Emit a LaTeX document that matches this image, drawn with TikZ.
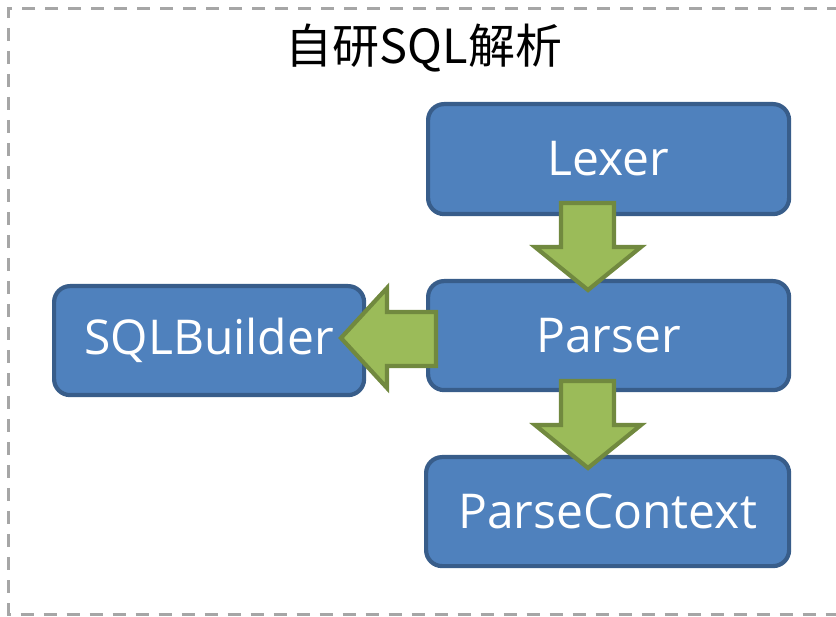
\documentclass[tikz,border=0pt]{standalone}
\usepackage{fontspec}
\setmainfont{Open Sans}
\newfontfamily\cjk{Noto Sans CJK SC}
\definecolor{boxfill}{HTML}{4F81BD}
\definecolor{boxline}{HTML}{385D8A}
\definecolor{arrfill}{HTML}{9BBB59}
\definecolor{arrline}{HTML}{71893F}
\definecolor{frame}{HTML}{A6A6A6}
\begin{document}
\begin{tikzpicture}[x=1pt,y=-1pt,
  blk/.style={draw=boxline,fill=boxfill,line width=4.2pt,rounded corners=16pt,
    inner sep=0pt,anchor=north west},
  lbl/.style={text=white,font=\fontsize{48}{54}\selectfont},
  blockarrow/.style={draw=arrline,fill=arrfill,line width=4.2pt,line join=miter}]
\useasboundingbox (0,0) rectangle (836,617);
\draw[frame,line width=3pt,dash pattern=on 13pt off 10pt] (840,8.5) -- (8.5,8.5) -- (8.5,614) -- (840,614);
\node[font=\cjk\fontsize{47}{54}\selectfont] (title) at (424,48) {自研SQL解析};
\node[blk,minimum width=361pt,minimum height=110pt] (lexer) at (426,102) {};
\node[lbl] (lexert) at (lexer.center) {Lexer};
\node[blk,minimum width=361pt,minimum height=109pt] (parser) at (426,279) {};
\node[lbl] (parsert) at (parser.center) {Parser};
\node[blk,minimum width=363pt,minimum height=109pt] (ctx) at (424,455) {};
\node[lbl] (ctxt) at (ctx.center) {ParseContext};
\node[blk,minimum width=310pt,minimum height=109pt] (builder) at (52,284) {};
\node[lbl] (buildert) at (builder.center) {SQLBuilder};
% down arrow lexer -> parser
\draw[blockarrow] (561,203) -- (614,203) -- (614,247) -- (641,247) -- (588,290) -- (535,247) -- (561,247) -- cycle;
% down arrow parser -> context
\draw[blockarrow] (561,381) -- (614,381) -- (614,425) -- (641,425) -- (588,468) -- (535,425) -- (561,425) -- cycle;
% left arrow parser -> builder
\draw[blockarrow] (436,312) -- (436,366) -- (387,366) -- (387,388) -- (341,338) -- (387,288) -- (387,312) -- cycle;
\end{tikzpicture}
\end{document}
